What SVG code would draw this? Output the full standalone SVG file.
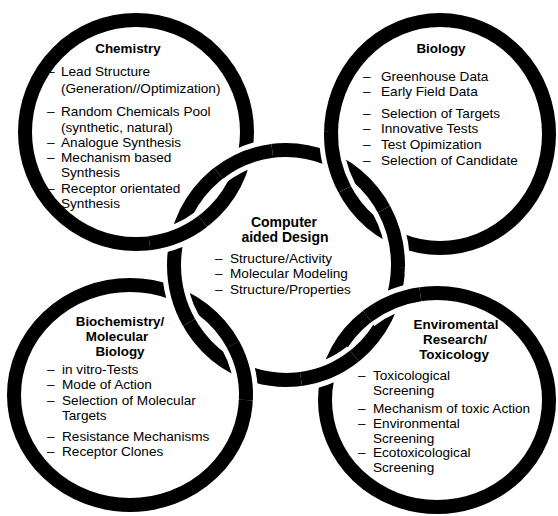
<svg xmlns="http://www.w3.org/2000/svg" width="558" height="516" viewBox="0 0 558 516">
<style>
.ring{fill:none;stroke:#000;stroke-width:14}
.halo{fill:none;stroke:#fff;stroke-width:24}
.over{fill:none;stroke:#000;stroke-width:14}
text{font-family:"Liberation Sans",Arial,Helvetica,sans-serif;fill:#000}
.i{font-size:13.6px}
.h{font-size:13.4px;font-weight:bold;text-anchor:middle}
</style>
<rect width="558" height="516" fill="#fff"/>
<g id="chemistry">
<ellipse class="ring" cx="136" cy="132" rx="111" ry="112"/>
<text class="h" x="128" y="53">Chemistry</text>
<text class="i"><tspan x="47" y="76">–</tspan><tspan x="61" y="76">Lead Structure</tspan></text>
<text class="i" x="61" y="93">(Generation//Optimization)</text>
<text class="i"><tspan x="47" y="116">–</tspan><tspan x="61" y="116">Random Chemicals Pool</tspan></text>
<text class="i" x="61" y="132">(synthetic, natural)</text>
<text class="i"><tspan x="47" y="147">–</tspan><tspan x="61" y="147">Analogue Synthesis</tspan></text>
<text class="i"><tspan x="47" y="162">–</tspan><tspan x="61" y="162">Mechanism based</tspan></text>
<text class="i" x="61" y="177">Synthesis</text>
<text class="i"><tspan x="47" y="193">–</tspan><tspan x="61" y="193">Receptor orientated</tspan></text>
<text class="i" x="61" y="208">Synthesis</text>
</g>
<g id="biology">
<ellipse class="ring" cx="440" cy="134" rx="109" ry="114"/>
<text class="h" x="441" y="53">Biology</text>
<text class="i"><tspan x="363" y="81">–</tspan><tspan x="381" y="81">Greenhouse Data</tspan></text>
<text class="i"><tspan x="363" y="96">–</tspan><tspan x="381" y="96">Early Field Data</tspan></text>
<text class="i"><tspan x="363" y="118">–</tspan><tspan x="381" y="118">Selection of Targets</tspan></text>
<text class="i"><tspan x="363" y="133">–</tspan><tspan x="381" y="133">Innovative Tests</tspan></text>
<text class="i"><tspan x="363" y="149">–</tspan><tspan x="381" y="149">Test Opimization</tspan></text>
<text class="i"><tspan x="363" y="165">–</tspan><tspan x="381" y="165">Selection of Candidate</tspan></text>
</g>
<g id="computer-aided-design">
<ellipse class="ring" cx="286" cy="265" rx="112" ry="115"/>
<text class="h" x="284" y="227" style="font-size:14px">Computer</text>
<text class="h" x="285" y="242" style="font-size:14px">aided Design</text>
<text class="i"><tspan x="215" y="263">–</tspan><tspan x="230" y="263">Structure/Activity</tspan></text>
<text class="i"><tspan x="215" y="278">–</tspan><tspan x="230" y="278">Molecular Modeling</tspan></text>
<text class="i"><tspan x="215" y="294">–</tspan><tspan x="230" y="294">Structure/Properties</tspan></text>
</g>
<g id="biochemistry">
<ellipse class="ring" cx="130" cy="395" rx="116" ry="110"/>
<text class="h" x="120" y="326">Biochemistry/</text>
<text class="h" x="117" y="341">Molecular</text>
<text class="h" x="120" y="356">Biology</text>
<text class="i"><tspan x="47" y="374">–</tspan><tspan x="62" y="374">in vitro-Tests</tspan></text>
<text class="i"><tspan x="47" y="389">–</tspan><tspan x="62" y="389">Mode of Action</tspan></text>
<text class="i"><tspan x="47" y="405">–</tspan><tspan x="62" y="405">Selection of Molecular</tspan></text>
<text class="i" x="62" y="420">Targets</text>
<text class="i"><tspan x="47" y="441">–</tspan><tspan x="62" y="441">Resistance Mechanisms</tspan></text>
<text class="i"><tspan x="47" y="456">–</tspan><tspan x="62" y="456">Receptor Clones</tspan></text>
</g>
<g id="environmental">
<ellipse class="ring" cx="437" cy="400" rx="112" ry="107"/>
<text class="h" x="456" y="329">Enviromental</text>
<text class="h" x="455" y="344">Research/</text>
<text class="h" x="454" y="359">Toxicology</text>
<text class="i"><tspan x="358" y="380">–</tspan><tspan x="373" y="380">Toxicological</tspan></text>
<text class="i" x="373" y="395">Screening</text>
<text class="i"><tspan x="358" y="413">–</tspan><tspan x="373" y="413">Mechanism of toxic Action</tspan></text>
<text class="i"><tspan x="358" y="428">–</tspan><tspan x="373" y="428">Environmental</tspan></text>
<text class="i" x="373" y="443">Screening</text>
<text class="i"><tspan x="358" y="457">–</tspan><tspan x="373" y="457">Ecotoxicological</tspan></text>
<text class="i" x="373" y="472">Screening</text>
</g>
<g id="connectors">
<path class="halo" d="M218.6,173.2 A112,115 0 0 1 272.3,150.9"/>
<path class="over" d="M218.6,173.2 A112,115 0 0 1 272.3,150.9"/>
<path class="halo" d="M202.8,221.4 A111,112 0 0 1 149.5,243.2"/>
<path class="over" d="M202.8,221.4 A111,112 0 0 1 149.5,243.2"/>
<path class="halo" d="M344.7,189.3 A109,114 0 0 1 331.0,132.0"/>
<path class="over" d="M344.7,189.3 A109,114 0 0 1 331.0,132.0"/>
<path class="halo" d="M384.0,209.3 A112,115 0 0 1 398.0,267.0"/>
<path class="over" d="M384.0,209.3 A112,115 0 0 1 398.0,267.0"/>
<path class="halo" d="M189.0,322.5 A112,115 0 0 1 174,265"/>
<path class="over" d="M189.0,322.5 A112,115 0 0 1 174,265"/>
<path class="halo" d="M233.0,344.4 A116,110 0 0 1 245.9,400.0"/>
<path class="over" d="M233.0,344.4 A116,110 0 0 1 245.9,400.0"/>
<path class="halo" d="M367.1,316.4 A112,107 0 0 1 420.3,294.2"/>
<path class="over" d="M367.1,316.4 A112,107 0 0 1 420.3,294.2"/>
<path class="halo" d="M354.5,356.0 A112,115 0 0 1 301.0,379.0"/>
<path class="over" d="M354.5,356.0 A112,115 0 0 1 301.0,379.0"/>
</g>
</svg>
